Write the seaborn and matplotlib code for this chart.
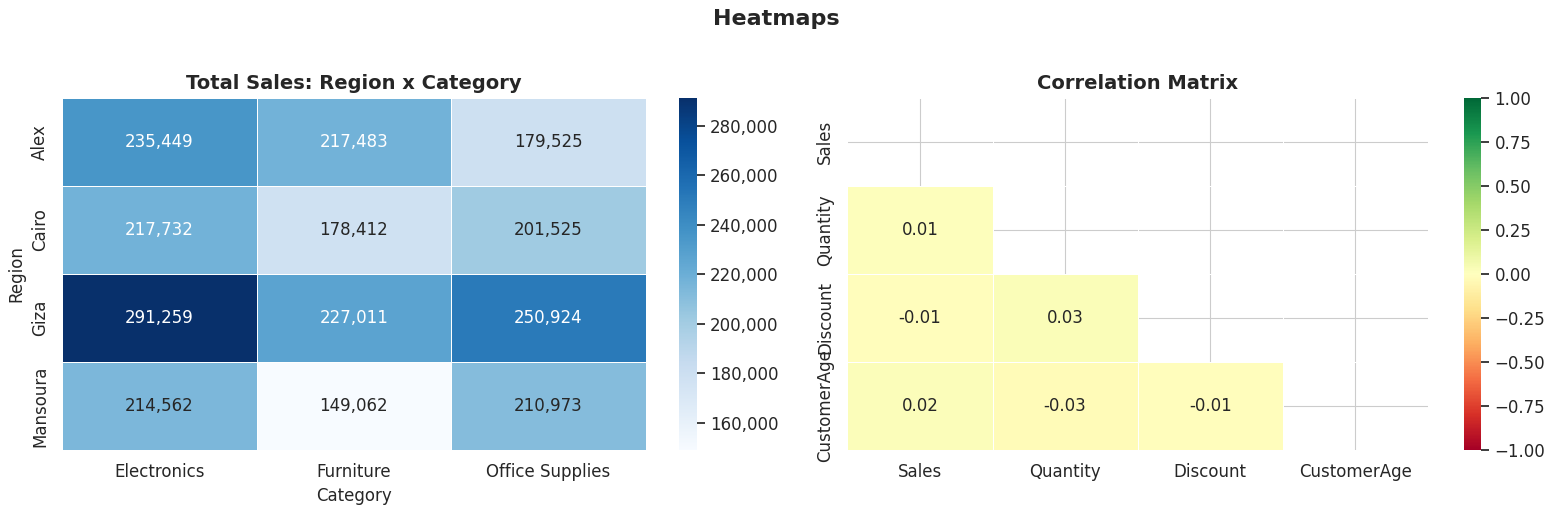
import numpy as np
import pandas as pd
import matplotlib
matplotlib.use("Agg")
import matplotlib.pyplot as plt
import seaborn as sns
from matplotlib.ticker import StrMethodFormatter

regions = ["Alex", "Cairo", "Giza", "Mansoura"]
categories = ["Electronics", "Furniture", "Office Supplies"]
sales = [
    [235449, 217483, 179525],
    [217732, 178412, 201525],
    [291259, 227011, 250924],
    [214562, 149062, 210973],
]

cols = ["Sales", "Quantity", "Discount", "CustomerAge"]
corr_vals = [
    [1.00, 0.01, -0.01, 0.02],
    [0.01, 1.00, 0.03, -0.03],
    [-0.01, 0.03, 1.00, -0.01],
    [0.02, -0.03, -0.01, 1.00],
]

sns.set_theme(style="whitegrid", rc={"grid.linewidth": 0.8})
plt.rcParams["font.family"] = ["DejaVu Sans"]

pivot = pd.DataFrame(sales, index=pd.Index(regions, name="Region"),
                     columns=pd.Index(categories, name="Category"))
corr = pd.DataFrame(corr_vals, index=cols, columns=cols)
mask = np.triu(np.ones_like(corr, dtype=bool))

fig = plt.figure(figsize=(15.52, 5.12), dpi=100)
ax1 = fig.add_axes([0.040, 0.121, 0.376, 0.688])
cax1 = fig.add_axes([0.4375, 0.121, 0.0115, 0.688])
ax2 = fig.add_axes([0.546, 0.121, 0.374, 0.688])
cax2 = fig.add_axes([0.943, 0.121, 0.0115, 0.688])

sns.heatmap(pivot, annot=True, fmt=",.0f", cmap="Blues", linewidths=0.5,
            linecolor="white", ax=ax1, cbar_ax=cax1, annot_kws={"size": 12})
cax1.yaxis.set_major_formatter(StrMethodFormatter("{x:,.0f}"))
ax1.set_title("Total Sales: Region x Category", fontsize=14, fontweight="bold")
ax1.set_xlabel("Category", fontsize=12)
ax1.set_ylabel("Region", fontsize=12)
ax1.tick_params(labelsize=12)
cax1.tick_params(labelsize=12)

sns.heatmap(corr, mask=mask, annot=True, fmt=".2f", cmap="RdYlGn", center=0,
            vmin=-1, vmax=1, linewidths=0.5, linecolor="white", ax=ax2,
            cbar_ax=cax2, annot_kws={"size": 12})
ax2.set_title("Correlation Matrix", fontsize=14, fontweight="bold")
ax2.tick_params(labelsize=12)
cax2.tick_params(labelsize=12)

fig.suptitle("Heatmaps", fontsize=16, fontweight="bold", y=0.982)
fig.savefig("out.png", dpi=100)
